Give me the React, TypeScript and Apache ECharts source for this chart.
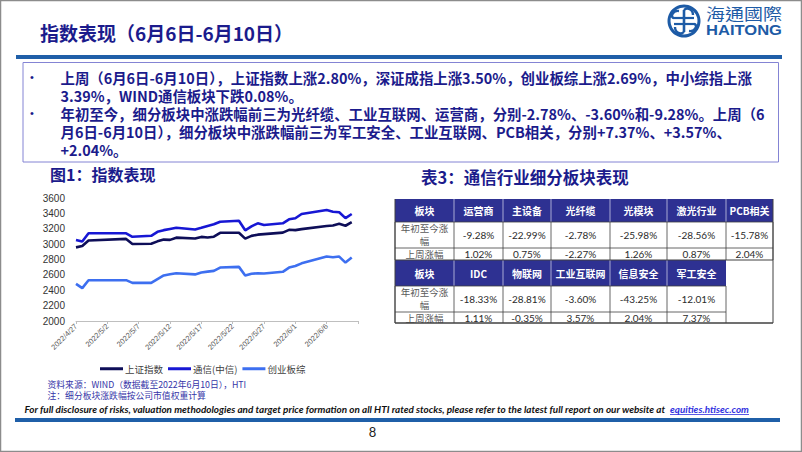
import React, { useEffect, useRef } from "react";
import * as echarts from "echarts";

// ---------------- data ----------------
const tradeDates = [
  "2022-04-27", "2022-04-28", "2022-04-29", "2022-05-05", "2022-05-06",
  "2022-05-09", "2022-05-10", "2022-05-11", "2022-05-12", "2022-05-13",
  "2022-05-16", "2022-05-17", "2022-05-18", "2022-05-19", "2022-05-20",
  "2022-05-23", "2022-05-24", "2022-05-25", "2022-05-26", "2022-05-27",
  "2022-05-30", "2022-05-31", "2022-06-01", "2022-06-02", "2022-06-06",
  "2022-06-07", "2022-06-08", "2022-06-09", "2022-06-10",
];
const shanghai = [
  2958, 2975, 3047, 3068, 3002, 3004, 3036, 3059, 3055, 3084,
  3074, 3094, 3086, 3097, 3147, 3147, 3071, 3107, 3123, 3130,
  3149, 3186, 3182, 3195, 3236, 3242, 3264, 3239, 3285,
];
const telecom = [
  3054, 3034, 3141, 3141, 3095, 3108, 3160, 3182, 3198, 3214,
  3190, 3212, 3236, 3258, 3292, 3305, 3180, 3230, 3271, 3249,
  3271, 3323, 3336, 3392, 3444, 3422, 3414, 3338, 3392,
];
const chinext = [
  2483, 2427, 2531, 2531, 2496, 2496, 2545, 2592, 2608, 2622,
  2606, 2630, 2642, 2652, 2695, 2704, 2591, 2615, 2622, 2618,
  2640, 2695, 2715, 2750, 2838, 2830, 2838, 2760, 2825,
];
const seriesNames = ["上证指数", "通信(中信)", "创业板综"];
const xTickLabels = [
  "2022/4/27", "2022/5/2", "2022/5/7", "2022/5/12", "2022/5/17",
  "2022/5/22", "2022/5/27", "2022/6/1", "2022/6/6",
];

const pageTitle = "指数表现（6月6日-6月10日）";
const bodyLines = [
  "上周（6月6日-6月10日），上证指数上涨2.80%，深证成指上涨3.50%，创业板综上涨2.69%，中小综指上涨",
  "3.39%，WIND通信板块下跌0.08%。",
  "年初至今，细分板块中涨跌幅前三为光纤缆、工业互联网、运营商，分别-2.78%、-3.60%和-9.28%。上周（6",
  "月6日-6月10日），细分板块中涨跌幅前三为军工安全、工业互联网、PCB相关，分别+7.37%、+3.57%、",
  "+2.04%。",
];
const bulletRows = [0, 2];
const chartTitle = "图1：指数表现";
const tableTitle = "表3：通信行业细分板块表现";

const tableHead1 = ["板块", "运营商", "主设备", "光纤缆", "光模块", "激光行业", "PCB相关"];
const ytd1 = [-9.28, -22.99, -2.78, -25.98, -28.56, -15.78];
const week1 = [1.02, 0.75, -2.27, 1.26, 0.87, 2.04];
const tableHead2 = ["板块", "IDC", "物联网", "工业互联网", "信息安全", "军工安全"];
const ytd2 = [-18.33, -28.81, -3.6, -43.25, -12.01];
const week2 = [1.11, -0.35, 3.57, 2.04, 7.37];
const rowLabels = ["年初至今涨幅", "上周涨幅"];

const sourceNote = "资料来源：WIND（数据截至2022年6月10日），HTI";
const remarkNote = "注：细分板块涨跌幅按公司市值权重计算";
const disclosure =
  "For full disclosure of risks, valuation methodologies and target price formation on all HTI rated stocks, please refer to the latest full report on our website at ";
const linkText = "equities.htisec.com";
const pageNo = "8";

// ---------------- helpers ----------------
const NAVY = "#1b1b8c";
const CJK = "'Noto Sans CJK SC', 'Noto Sans', sans-serif";

function dayOffset(d: string): number {
  const [y, m, dd] = d.split("-").map(Number);
  const [y0, m0, d0] = tradeDates[0].split("-").map(Number);
  return Math.round((Date.UTC(y, m - 1, dd) - Date.UTC(y0, m0 - 1, d0)) / 86400000);
}

function measure(text: string, font: string): number {
  const c = document.createElement("canvas").getContext("2d");
  if (!c) return text.length * 6;
  c.font = font;
  return c.measureText(text).width;
}

function pct(v: number): string {
  return v.toFixed(2) + "%";
}

function txt(x: number, y: number, text: string, style: any, extra: any = {}) {
  return {
    type: "text",
    x,
    y,
    ...extra,
    style: { text, textAlign: "left", textVerticalAlign: "middle", ...style },
  };
}

function line(x1: number, y1: number, x2: number, y2: number, stroke: string, lineWidth = 1) {
  return { type: "line", shape: { x1, y1, x2, y2 }, style: { stroke, lineWidth } };
}

function buildTable(): any[] {
  const els: any[] = [];
  const colX = [395, 454, 503, 551, 610, 667, 726, 773];
  const gridC = "#404040";
  const blocks = [
    { head: tableHead1, ytd: ytd1, week: week1, y: [199, 222, 248, 260] },
    { head: tableHead2, ytd: ytd2, week: week2, y: [260, 286, 312, 323] },
  ];
  blocks.forEach((b) => {
    const n = b.head.length;
    const right = colX[n];
    els.push({
      type: "rect",
      shape: { x: colX[0], y: b.y[0], width: right - colX[0], height: b.y[1] - b.y[0] },
      style: { fill: "#2e3192" },
    });
    for (let i = 1; i < n; i++) {
      els.push(line(colX[i], b.y[0], colX[i], b.y[1], "#c9c9e6", 0.8));
    }
    b.head.forEach((h, i) => {
      els.push({
        type: "text",
        x: (colX[i] + colX[i + 1]) / 2,
        y: (b.y[0] + b.y[1]) / 2,
        style: {
          text: h, fill: "#ffffff", fontSize: 10, fontWeight: "bold", fontFamily: CJK,
          textAlign: "center", textVerticalAlign: "middle", lineHeight: 11,
        },
      });
    });
    [0, 1].forEach((r) => {
      els.push({
        type: "text",
        x: (colX[0] + colX[1]) / 2,
        y: (b.y[r + 1] + b.y[r + 2]) / 2 - (r === 0 ? 0.5 : 0),
        style: {
          text: rowLabels[r], fill: "#595959", fontSize: 9.5, fontFamily: CJK,
          textAlign: "center", textVerticalAlign: "middle",
          width: 52, overflow: "break", lineHeight: r === 0 ? 12.5 : 10,
        },
      });
    });
    const rows = [b.ytd, b.week];
    rows.forEach((vals, r) => {
      vals.forEach((v, i) => {
        els.push({
          type: "text",
          x: (colX[i + 1] + colX[i + 2]) / 2,
          y: (b.y[r + 1] + b.y[r + 2]) / 2,
          style: {
            text: pct(v), fill: "#2b2b2b", fontSize: 10, fontFamily: "Lato, 'Noto Sans', sans-serif",
            textAlign: "center", textVerticalAlign: "middle", lineHeight: 10,
          },
        });
      });
    });
    els.push(line(colX[0], b.y[1], right, b.y[1], gridC, 0.8));
    els.push(line(colX[0], b.y[2], right, b.y[2], gridC, 0.8));
    for (let i = 0; i <= n; i++) {
      els.push(line(colX[i], b.y[1], colX[i], b.y[3], gridC, 0.8));
    }
  });
  els.push(line(colX[0], 260, colX[7], 260, gridC, 1));
  els.push(line(colX[0], 323, colX[7], 323, gridC, 1.4));
  els.push(line(colX[7], 199, colX[7], 323, gridC, 1));
  els.push(line(colX[0], 199, colX[0], 323, gridC, 1));
  return els;
}

function buildLogo(): any[] {
  const c = "#1d5ba6";
  const cx = 684, cy = 21;
  const cjkW = measure("海通國際", "16px 'Noto Sans CJK TC'") || 64;
  const enW = measure("HAITONG", "bold 15px 'Liberation Sans'") || 70;
  return [
    { type: "ring", shape: { cx, cy, r: 16.5, r0: 13.5 }, style: { fill: c } },
    line(cx, cy - 11, cx, cy + 11, c, 2.6),
    line(cx - 10, cy - 3, cx + 10, cy - 3, c, 2.2),
    line(cx - 10, cy + 3, cx + 10, cy + 3, c, 2.2),
    {
      type: "bezierCurve",
      shape: { x1: cx - 10, y1: cy - 3, cpx1: cx - 14, cpy1: cy - 3, cpx2: cx - 12, cpy2: cy - 11, x2: cx - 5, y2: cy - 10 },
      style: { stroke: c, lineWidth: 2.4, fill: "none" },
    },
    {
      type: "bezierCurve",
      shape: { x1: cx + 10, y1: cy + 3, cpx1: cx + 14, cpy1: cy + 3, cpx2: cx + 12, cpy2: cy + 11, x2: cx + 5, y2: cy + 10 },
      style: { stroke: c, lineWidth: 2.4, fill: "none" },
    },
    {
      type: "bezierCurve",
      shape: { x1: cx, y1: cy - 11, cpx1: cx + 3, cpy1: cy - 14, cpx2: cx + 9, cpy2: cy - 12, x2: cx + 9, y2: cy - 6 },
      style: { stroke: c, lineWidth: 2.4, fill: "none" },
    },
    {
      type: "bezierCurve",
      shape: { x1: cx, y1: cy + 11, cpx1: cx - 3, cpy1: cy + 14, cpx2: cx - 9, cpy2: cy + 12, x2: cx - 9, y2: cy + 6 },
      style: { stroke: c, lineWidth: 2.4, fill: "none" },
    },
    txt(706, 13.5, "海通國際", { fill: c, fontSize: 16, lineHeight: 15, fontFamily: "'Noto Sans CJK TC', 'Noto Sans CJK SC', sans-serif" }, { scaleX: 76 / cjkW }),
    txt(706, 30, "HAITONG", { fill: c, fontSize: 15, lineHeight: 14, fontWeight: "bold", fontFamily: "'Liberation Sans', Arial, sans-serif" }, { scaleX: 76 / enW }),
  ];
}

function buildGraphics(): any[] {
  const g: any[] = [];
  g.push({ type: "rect", shape: { x: 0.5, y: 0.5, width: 801, height: 451 }, style: { fill: "none", stroke: "#8c8c8c", lineWidth: 1.5 } });
  g.push(txt(40, 32, pageTitle, { fill: NAVY, fontSize: 19, fontWeight: "bold", fontFamily: CJK }));
  g.push(...buildLogo());
  g.push({ type: "rect", shape: { x: 16, y: 55, width: 766, height: 4 }, style: { fill: "#1f5fa8" } });
  g.push({ type: "rect", shape: { x: 23, y: 62.5, width: 755.5, height: 99.5 }, style: { fill: "none", stroke: "#8484d4", lineWidth: 1 } });
  const bodyFontBase = 14;
  const m = measure(bodyLines[0], `bold ${bodyFontBase}px 'Noto Sans CJK SC'`);
  let fs = m > 0 ? (bodyFontBase * 692) / m : 14.4;
  fs = Math.max(12.5, Math.min(14.5, fs));
  const lineYs = [77, 95.2, 113.4, 131.6, 149.8];
  bodyLines.forEach((t, i) => {
    g.push(txt(60.5, lineYs[i], t, { fill: NAVY, fontSize: fs, lineHeight: 16, fontWeight: "bold", fontFamily: CJK }));
  });
  bulletRows.forEach((r) => {
    g.push(txt(30, lineYs[r], "•", { fill: NAVY, fontSize: 11, lineHeight: 12, fontFamily: "'Liberation Sans', sans-serif" }));
  });
  g.push(txt(50, 174, chartTitle, { fill: NAVY, fontSize: 16, fontWeight: "bold", fontFamily: CJK }));
  g.push(txt(421, 177, tableTitle, { fill: NAVY, fontSize: 16.5, fontWeight: "bold", fontFamily: CJK }));
  g.push(...buildTable());
  g.push(txt(47.5, 384.2, sourceNote, { fill: "#3535a8", fontSize: 8.8, lineHeight: 9, fontFamily: CJK }));
  g.push(txt(47.5, 395, remarkNote, { fill: "#3535a8", fontSize: 8.8, lineHeight: 9, fontFamily: CJK }));
  const dFont = "italic bold 10px Lato";
  const dw = measure(disclosure, dFont) || 700;
  const lw = measure(linkText, dFont) || 80;
  g.push(txt(24.5, 409, disclosure, { fill: "#111111", fontSize: 10, lineHeight: 11, fontWeight: "bold", fontStyle: "italic", fontFamily: "Lato, sans-serif" }, { scaleX: 644 / dw }));
  g.push(txt(670, 409, linkText, { fill: "#3030e0", fontSize: 10, lineHeight: 11, fontWeight: "bold", fontStyle: "italic", fontFamily: "Lato, sans-serif" }, { scaleX: 79 / lw }));
  g.push(line(670, 414.5, 749, 414.5, "#3030e0", 0.8));
  g.push({ type: "rect", shape: { x: 15, y: 418, width: 765, height: 4 }, style: { fill: "#1f5fa8" } });
  g.push({
    type: "text", x: 372.5, y: 432,
    style: { text: pageNo, fill: "#222", fontSize: 13, fontFamily: "Lato, sans-serif", textAlign: "center", textVerticalAlign: "middle" },
  });
  return g;
}

export default function App() {
  const ref = useRef<HTMLDivElement>(null);
  useEffect(() => {
    if (!ref.current) return;
    const chart = echarts.init(ref.current, null, { renderer: "svg" });
    const colors = ["#0e0e58", "#1717d4", "#3d6ff0"];
    const datas = [shanghai, telecom, chinext];
    const option: any = {
      animation: false,
      backgroundColor: "#ffffff",
      grid: { left: 76, top: 198, width: 282, height: 123, containLabel: false },
      legend: {
        left: 95,
        top: 359,
        itemWidth: 23,
        itemHeight: 3,
        itemGap: 5,
        icon: "rect",
        data: seriesNames,
        textStyle: { fontSize: 9.5, color: "#404040", fontFamily: CJK, padding: [0, 0, 0, -3] },
      },
      xAxis: {
        type: "value",
        min: 0,
        max: 45,
        interval: 5,
        axisLine: { show: true, lineStyle: { color: "#bfbfbf", width: 1 } },
        axisTick: { show: true, length: 3, lineStyle: { color: "#bfbfbf" } },
        splitLine: { show: false },
        axisLabel: {
          rotate: 45,
          fontSize: 7.5,
          color: "#595959",
          margin: 4,
          fontFamily: "'Liberation Sans', Arial, sans-serif",
          formatter: (v: number) => xTickLabels[Math.round(v / 5)] ?? "",
        },
      },
      yAxis: {
        type: "value",
        min: 2000,
        max: 3600,
        interval: 200,
        axisLine: { show: false },
        axisTick: { show: false },
        splitLine: { show: false },
        axisLabel: {
          fontSize: 10, color: "#333333", margin: 11, lineHeight: 10,
          fontFamily: "'Liberation Sans', Arial, sans-serif",
          formatter: (v: number) => String(v),
        },
      },
      series: seriesNames.map((name, si) => ({
        name,
        type: "line",
        showSymbol: false,
        symbol: "none",
        color: colors[si],
        lineStyle: { width: 2.6, color: colors[si] },
        data: tradeDates.map((d, i) => [dayOffset(d), datas[si][i]]),
      })),
      graphic: { elements: buildGraphics() },
    };
    chart.setOption(option);
    return () => chart.dispose();
  }, []);
  return (
    <div
      ref={ref}
      style={{ position: "absolute", left: 0, top: 0, width: 802, height: 452, background: "#fff" }}
    />
  );
}
